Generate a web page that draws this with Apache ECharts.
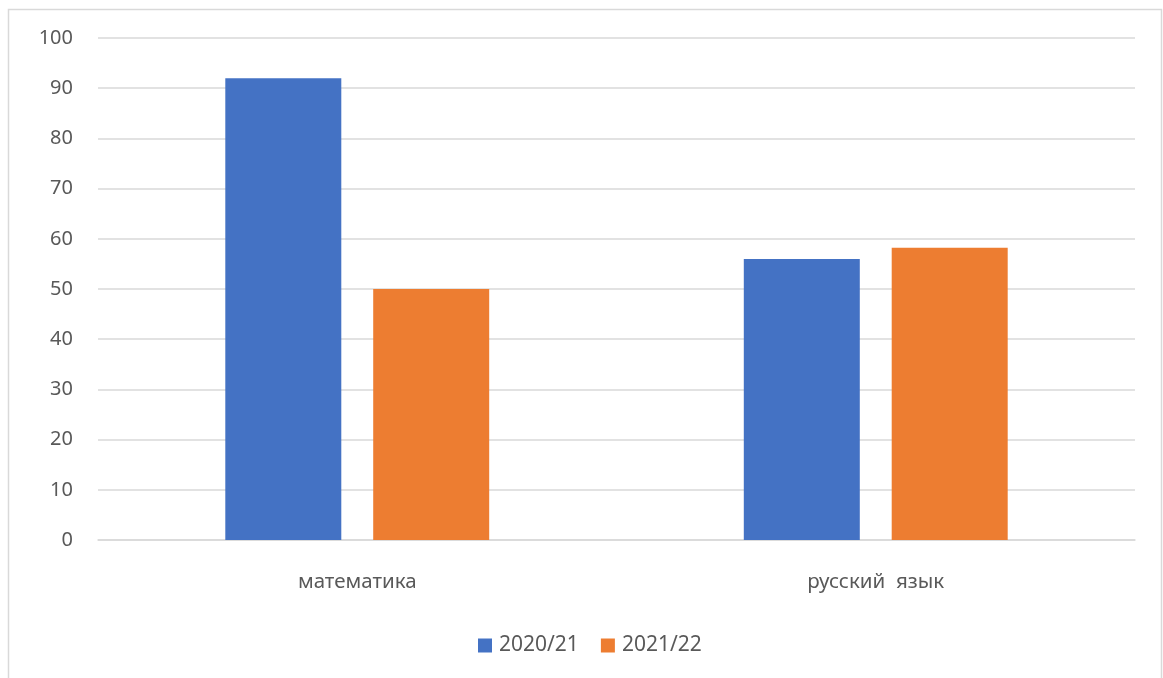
<!DOCTYPE html>
<html><head><meta charset="utf-8">
<script src="https://cdn.jsdelivr.net/npm/echarts@6/dist/echarts.min.js"></script>
<style>html,body{margin:0;padding:0;background:#fff}#c{width:1163px;height:678px}</style>
</head><body><div id="c"></div>
<script>
const categories = ['математика', 'русский  язык'];
const seriesNames = ['2020/21', '2021/22'];
const values2020 = [92, 56];
const values2021 = [50, 58.2];
const colors = ['#4472C4', '#ED7D31'];

const chart = echarts.init(document.getElementById('c'), null, {renderer: 'canvas'});
const font = 'Noto Sans';
chart.setOption({
  animation: false,
  graphic: [{type: 'rect', shape: {x: 8.5, y: 9.5, width: 1153, height: 700}, style: {fill: 'none', stroke: '#d9d9d9', lineWidth: 1.5}, silent: true}],
  grid: {left: 98, right: 28, top: 38, bottom: 138},
  legend: {
    bottom: 17, left: 473, itemWidth: 14, itemHeight: 14, itemGap: 22,
    icon: 'rect',
    textStyle: {color: '#595959', fontSize: 21, fontFamily: font, padding: [0, 0, 0, 2]},
    data: seriesNames
  },
  xAxis: {
    type: 'category', data: categories,
    axisLine: {show: true, lineStyle: {color: '#d9d9d9', width: 1.5}},
    axisTick: {show: false},
    axisLabel: {color: '#595959', fontSize: 20.5, fontFamily: font, margin: 32}
  },
  yAxis: {
    type: 'value', min: 0, max: 100, interval: 10,
    axisLine: {show: false}, axisTick: {show: false},
    splitLine: {lineStyle: {color: '#d9d9d9', width: 1.5}},
    axisLabel: {color: '#595959', fontSize: 20, fontFamily: font, margin: 25}
  },
  series: [
    {name: seriesNames[0], type: 'bar', data: values2020, barWidth: 116, barGap: '27.5%', itemStyle: {color: colors[0]}},
    {name: seriesNames[1], type: 'bar', data: values2021, barWidth: 116, itemStyle: {color: colors[1]}}
  ]
});
</script></body></html>
